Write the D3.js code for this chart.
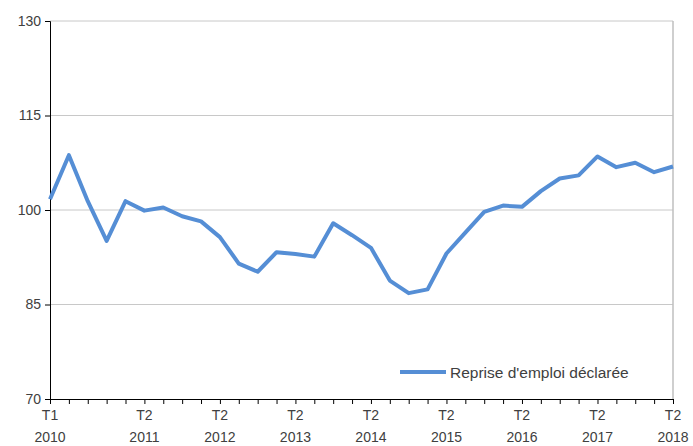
<!DOCTYPE html>
<html>
<head>
<meta charset="utf-8">
<script src="https://cdn.jsdelivr.net/npm/d3@7"></script>
<style>
  body { margin: 0; background: #fff; }
  svg text { font-family: "Liberation Sans", Arial, sans-serif; fill: #404040; }
</style>
</head>
<body>
<svg id="chart"></svg>
<script>
// quarters T1 2010 .. T2 2018
const quarters = [];
for (let y = 2010; y <= 2018; y++) {
  for (let q = 1; q <= 4; q++) {
    if (y === 2018 && q > 2) break;
    quarters.push(`T${q} ${y}`);
  }
}
const seriesName = "Reprise d'emploi déclarée";
const values = [
  101.7, 108.7, 101.4, 95.1, 101.4, 99.9, 100.4, 99.0, 98.2, 95.7,
  91.5, 90.2, 93.3, 93.0, 92.6, 97.9, 96.0, 94.0, 88.8, 86.8,
  87.4, 93.1, 96.4, 99.7, 100.7, 100.5, 103.0, 105.0, 105.5, 108.5,
  106.8, 107.5, 106.0, 106.9
];
const yTicks = [70, 85, 100, 115, 130];
const labelledQuarters = ['T1 2010', 'T2 2011', 'T2 2012', 'T2 2013', 'T2 2014',
  'T2 2015', 'T2 2016', 'T2 2017', 'T2 2018'];

const svgWidth = 693, svgHeight = 446;
const margin = { top: 21, left: 50, right: 20, bottom: 47 };
const width = svgWidth - margin.left - margin.right;
const height = svgHeight - margin.top - margin.bottom;

const svg = d3.select('#chart').attr('width', svgWidth).attr('height', svgHeight);
const g = svg.append('g').attr('transform', `translate(${margin.left},${margin.top})`);

const x = d3.scalePoint().domain(quarters).range([0, width]);
const y = d3.scaleLinear().domain([70, 130]).range([height, 0]);

// gridlines
g.selectAll('.grid').data(yTicks.slice(1)).enter().append('line')
  .attr('x1', 0).attr('x2', width)
  .attr('y1', d => y(d)).attr('y2', d => y(d))
  .attr('stroke', '#c8c8c8').attr('stroke-width', 1);

// right border
g.append('line').attr('x1', width).attr('x2', width).attr('y1', 0).attr('y2', height)
  .attr('stroke', '#bfbfbf').attr('stroke-width', 1.5);

// y axis
const yAxis = g.append('g')
  .call(d3.axisLeft(y).tickValues(yTicks).tickSize(5).tickPadding(4));
yAxis.select('.domain').attr('stroke', '#000');
yAxis.selectAll('.tick line').attr('stroke', '#000');
yAxis.selectAll('text').style('font-size', '14px').attr('fill', '#404040');

// x axis
const xAxis = g.append('g').attr('transform', `translate(0,${height})`)
  .call(d3.axisBottom(x).tickSize(5).tickSizeOuter(0).tickFormat(''));
xAxis.select('.domain').attr('stroke', '#000');
xAxis.selectAll('.tick line').attr('stroke', '#000');

const lab = g.selectAll('.xlab').data(labelledQuarters).enter().append('text')
  .attr('text-anchor', 'middle')
  .attr('transform', d => `translate(${x(d)},${height})`)
  .style('font-size', '14px');
lab.append('tspan').attr('x', 0).attr('y', 21).text(d => d.split(' ')[0]);
lab.append('tspan').attr('x', 0).attr('y', 43).text(d => d.split(' ')[1]);

// line
const line = d3.line()
  .x((d, i) => x(quarters[i]))
  .y(d => y(d));

g.append('path').datum(values)
  .attr('fill', 'none')
  .attr('stroke', '#558ed5')
  .attr('stroke-width', 4)
  .attr('stroke-linejoin', 'round')
  .attr('d', line);

// legend
const leg = svg.append('g').attr('transform', 'translate(400,372)');
leg.append('line').attr('x1', 0).attr('x2', 46).attr('y1', 0).attr('y2', 0)
  .attr('stroke', '#558ed5').attr('stroke-width', 4);
leg.append('text').attr('x', 50).attr('y', 5.5).style('font-size', '15.5px').text(seriesName);
</script>
</body>
</html>
